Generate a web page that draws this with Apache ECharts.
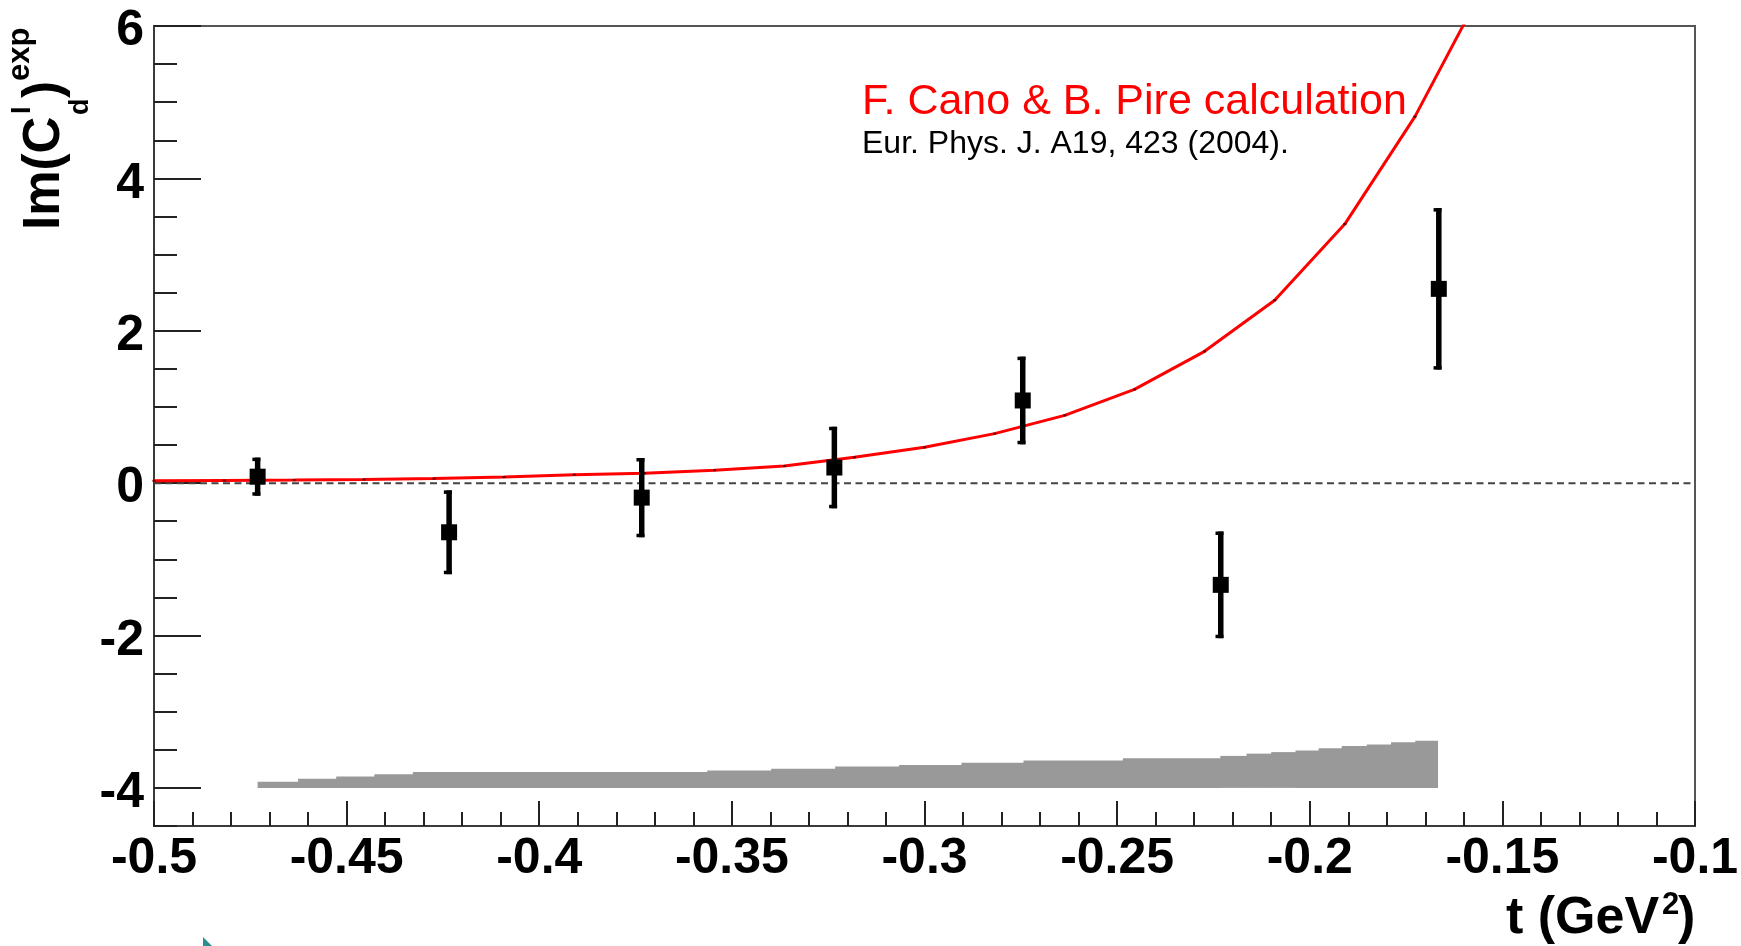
<!DOCTYPE html>
<html>
<head>
<meta charset="utf-8">
<script src="https://cdn.jsdelivr.net/npm/echarts@6/dist/echarts.min.js"></script>
<style>
html, body { margin: 0; padding: 0; background: #ffffff; }
#chart { width: 1741px; height: 946px; }
</style>
</head>
<body>
<div id="chart"></div>
<script>
// Measured Im(C_d^I)^exp values with statistical errors, versus t (GeV^2)
const tPoints    = [-0.4731, -0.4234, -0.3734, -0.3234, -0.2745, -0.2231, -0.1665];
const imValues   = [0.085, -0.645, -0.19, 0.205, 1.085, -1.335, 2.55];
const statErrors = [0.25, 0.55, 0.52, 0.535, 0.575, 0.70, 1.06];

// F. Cano & B. Pire calculation
const tTheory  = [-0.5, -0.4818, -0.4636, -0.4455, -0.4273, -0.4091, -0.3909, -0.3727, -0.3545, -0.3364,
                  -0.3182, -0.3, -0.2818, -0.2636, -0.2455, -0.2273, -0.2091, -0.1909, -0.1727, -0.1545];
const imTheory = [0.03, 0.035, 0.04, 0.048, 0.06, 0.08, 0.11, 0.13, 0.17, 0.225,
                  0.34, 0.47, 0.65, 0.89, 1.23, 1.73, 2.40, 3.40, 4.81, 6.55];

// Systematic uncertainty band: bin edges and the band top in each bin, drawn up from sysBase
const sysEdges = [-0.4731, -0.4626, -0.4527, -0.4428, -0.4328, -0.3564, -0.3398, -0.3232, -0.3066, -0.2904,
                  -0.2743, -0.2485, -0.2232, -0.2164, -0.2100, -0.2037, -0.1977, -0.1917, -0.1852, -0.1789,
                  -0.1726, -0.1667];
const sysTop   = [-3.92, -3.88, -3.85, -3.82, -3.79, -3.77, -3.75, -3.72, -3.70, -3.67,
                  -3.64, -3.61, -3.58, -3.55, -3.53, -3.51, -3.48, -3.45, -3.43, -3.40, -3.38];
const sysBase = -4;

// Reference line at zero
const zeroLineT = [-0.5, -0.1];
const zeroLineV = [0, 0];

// Tick labels
const xLabelValues = [-0.5, -0.45, -0.4, -0.35, -0.3, -0.25, -0.2, -0.15, -0.1];
const yLabelValues = [-4, -2, 0, 2, 4, 6];
const yMinorValues = [-4.5, -4, -3.5, -3, -2.5, -2, -1.5, -1, -0.5, 0, 0.5, 1, 1.5, 2, 2.5, 3, 3.5, 4, 4.5, 5, 5.5, 6];

const FONT = '"Liberation Sans", Arial, Helvetica, sans-serif';
const AXIS_COLOR = '#3a3a3a';
const TICK_COLOR = '#222222';

const chart = echarts.init(document.getElementById('chart'), null, { renderer: 'canvas' });

const bandData = sysTop.map((v, i) => [sysEdges[i], sysEdges[i + 1], v]);
const pointData = tPoints.map((t, i) => [t, imValues[i], statErrors[i]]);

const option = {
  animation: false,
  backgroundColor: '#ffffff',
  grid: {
    left: 154, right: 46, top: 26, bottom: 120,
    show: true, borderColor: '#555555', borderWidth: 2,
    outerBoundsMode: 'none'
  },
  xAxis: {
    type: 'value',
    min: -0.5, max: -0.1, interval: 0.05,
    axisLine: { show: true, onZero: false, lineStyle: { color: AXIS_COLOR, width: 2 } },
    axisTick: { show: true, inside: true, length: 25, lineStyle: { color: TICK_COLOR, width: 2 } },
    minorTick: { show: true, splitNumber: 5, length: 14, lineStyle: { color: TICK_COLOR, width: 2 } },
    axisLabel: {
      customValues: xLabelValues,
      margin: 8,
      color: '#000', fontFamily: FONT, fontWeight: 'bold', fontSize: 50
    },
    splitLine: { show: false },
    minorSplitLine: { show: false }
  },
  yAxis: [
    {
      type: 'value',
      min: -4.5, max: 6,
      axisLine: { show: true, onZero: false, lineStyle: { color: AXIS_COLOR, width: 2 } },
      axisTick: { show: true, inside: true, length: 23, customValues: yMinorValues, lineStyle: { color: TICK_COLOR, width: 2 } },
      axisLabel: {
        customValues: yLabelValues,
        margin: 10,
        verticalAlign: 'top', lineHeight: 11,
        color: '#000', fontFamily: FONT, fontWeight: 'bold', fontSize: 50
      },
      splitLine: { show: false }
    },
    {
      type: 'value',
      min: -4.5, max: 6,
      position: 'left', offset: 0,
      axisLine: { show: false },
      axisTick: { show: true, inside: true, length: 47, customValues: yLabelValues, lineStyle: { color: TICK_COLOR, width: 2 } },
      axisLabel: { show: false },
      splitLine: { show: false }
    }
  ],
  series: [
    {
      // systematic band
      type: 'custom',
      z: 1,
      silent: true,
      renderItem: function (params, api) {
        const p0 = api.coord([api.value(0), api.value(2)]);
        const p1 = api.coord([api.value(1), sysBase]);
        const last = params.dataIndex === bandData.length - 1;
        return {
          type: 'rect',
          shape: { x: p0[0], y: p0[1], width: p1[0] - p0[0] + (last ? 0 : 0.8), height: p1[1] - p0[1] },
          style: { fill: '#999999' }
        };
      },
      encode: { x: [0, 1], y: 2 },
      data: bandData
    },
    {
      // dashed zero line
      type: 'line',
      z: 2,
      silent: true,
      symbol: 'none',
      lineStyle: { color: '#444444', width: 2, type: [7, 4.5] },
      data: zeroLineT.map((t, i) => [t, zeroLineV[i]])
    },
    {
      // theory curve
      type: 'line',
      z: 3,
      silent: true,
      clip: true,
      symbol: 'rect',
      symbolSize: [3, 2],
      itemStyle: { color: '#5a0000' },
      lineStyle: { color: '#ff0000', width: 3 },
      data: tTheory.map((t, i) => [t, imTheory[i]])
    },
    {
      // statistical error bars
      type: 'custom',
      z: 4,
      silent: true,
      renderItem: function (params, api) {
        const t = api.value(0), v = api.value(1), e = api.value(2);
        const hi = api.coord([t, v + e]);
        const lo = api.coord([t, v - e]);
        const w = 5.5;
        return {
          type: 'group',
          children: [
            { type: 'rect', shape: { x: hi[0] - w / 2, y: hi[1], width: w, height: lo[1] - hi[1] }, style: { fill: '#000' } },
            { type: 'rect', shape: { x: hi[0] - w / 2 - 2.5, y: hi[1], width: w + 2.5, height: 3.5 }, style: { fill: '#000' } },
            { type: 'rect', shape: { x: lo[0] - w / 2 - 2.5, y: lo[1] - 3.5, width: w + 2.5, height: 3.5 }, style: { fill: '#000' } }
          ]
        };
      },
      encode: { x: 0, y: 1 },
      data: pointData
    },
    {
      // data markers
      type: 'scatter',
      z: 5,
      silent: true,
      symbol: 'rect',
      symbolSize: 16,
      itemStyle: { color: '#000000', opacity: 1 },
      data: tPoints.map((t, i) => [t, imValues[i]])
    }
  ],
  graphic: [
    {
      type: 'text', x: 862, y: 102,
      style: { text: 'F. Cano & B. Pire calculation', fill: '#ff0000', font: '43px ' + FONT, textAlign: 'left', textVerticalAlign: 'middle' }
    },
    {
      type: 'text', x: 862, y: 144,
      style: { text: 'Eur. Phys. J. A19, 423 (2004).', fill: '#000000', font: '32px ' + FONT, textAlign: 'left', textVerticalAlign: 'middle' }
    },
    {
      // y-axis title, reading upwards
      type: 'group', x: 63, y: 230, rotation: Math.PI / 2,
      children: [
        { type: 'text', x: 0, y: -17.7, style: { text: 'Im(C', fill: '#000', font: 'bold 51px ' + FONT, textAlign: 'left', textVerticalAlign: 'middle' } },
        { type: 'text', x: 116, y: -40.4, style: { text: 'I', fill: '#000', font: 'bold 27px ' + FONT, textAlign: 'left', textVerticalAlign: 'middle' } },
        { type: 'text', x: 115, y: 17.6, style: { text: 'd', fill: '#000', font: 'bold 27px ' + FONT, textAlign: 'left', textVerticalAlign: 'middle' } },
        { type: 'text', x: 132, y: -17.7, style: { text: ')', fill: '#000', font: 'bold 51px ' + FONT, textAlign: 'left', textVerticalAlign: 'middle' } },
        { type: 'text', x: 149, y: -42.7, style: { text: 'exp', fill: '#000', font: 'bold 31px ' + FONT, textAlign: 'left', textVerticalAlign: 'middle' } }
      ]
    },
    {
      // x-axis title
      type: 'group', x: 0, y: 0,
      children: [
        { type: 'text', x: 1506, y: 919, style: { text: 't (GeV', fill: '#000', font: 'bold 52px ' + FONT, textAlign: 'left', textVerticalAlign: 'middle' } },
        { type: 'text', x: 1662, y: 905, style: { text: '2', fill: '#000', font: 'bold 31px ' + FONT, textAlign: 'left', textVerticalAlign: 'middle' } },
        { type: 'text', x: 1678, y: 919, style: { text: ')', fill: '#000', font: 'bold 52px ' + FONT, textAlign: 'left', textVerticalAlign: 'middle' } }
      ]
    },
    {
      type: 'polygon',
      shape: { points: [[203, 937], [213, 947], [203, 947]] },
      style: { fill: '#2a8f8f' }
    }
  ]
};

chart.setOption(option);
</script>
</body>
</html>
